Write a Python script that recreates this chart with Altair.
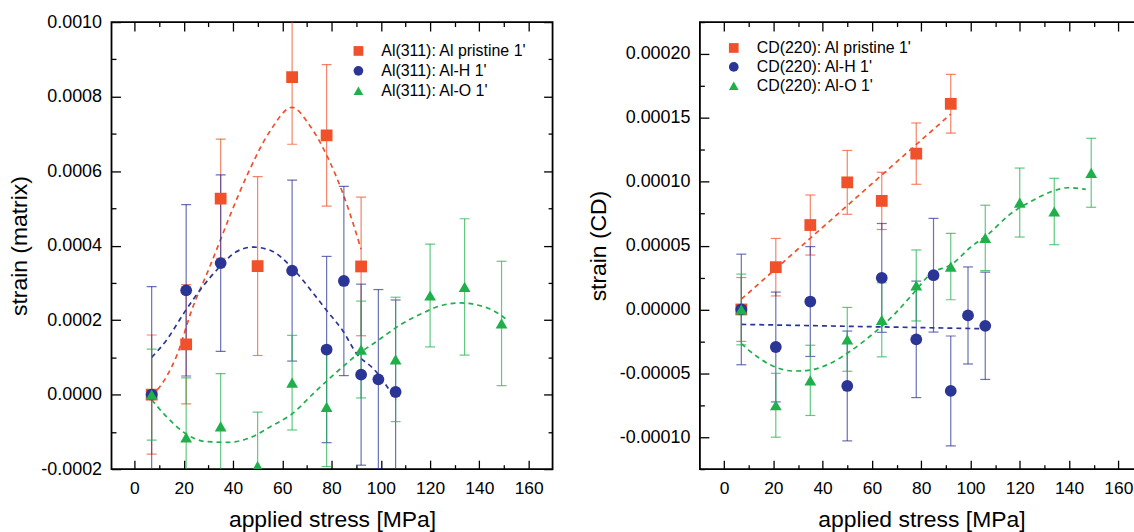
import altair as alt
import pandas as pd

# ---------------- Left panel: Al(311) matrix strain ----------------
L_NAMES = ["Al(311): Al pristine 1'", "Al(311): Al-H 1'", "Al(311): Al-O 1'"]

L_PRI_X = [7, 21, 35, 50, 64, 78, 92]
L_PRI_Y = [0.0, 0.000135, 0.000526, 0.000345, 0.000852, 0.000696, 0.000344]
L_PRI_E = [0.00016, 0.00016, 0.00016, 0.00024, 0.00018, 0.00019, 0.000186]

L_H_X = [7, 21, 35, 64, 78, 85, 92, 99, 106]
L_H_Y = [0.0, 0.00028, 0.000353, 0.000333, 0.000121, 0.000305, 0.0000535, 0.000041, 0.000007]
L_H_E = [0.00029, 0.00023, 0.000237, 0.000243, 0.00025, 0.000254, 0.000243, 0.000241, 0.000247]

L_O_X = [7, 21, 35, 50, 64, 78, 92, 106, 120, 134, 149]
L_O_Y = [0.0, -0.000115, -0.0000855, -0.000192, 0.000032, -0.000033, 0.000121, 0.0000944, 0.000266, 0.000289, 0.000191]
L_O_E = [0.000122, 0.00016, 0.000142, 0.000145, 0.000127, 0.00016, 0.00013, 0.000167, 0.000138, 0.000183, 0.000167]

# fitted (dashed) curves
L_FIT_PRI_X = [7, 13, 17.5, 23, 30.5, 34, 39, 46.5, 55, 64, 71, 78.5, 85, 92]
L_FIT_PRI_Y = [-0.000005, 0.000048, 0.00011, 0.000222, 0.000342, 0.0004, 0.000484, 0.0006, 0.000707, 0.000771, 0.000724, 0.000636, 0.000533, 0.00039]
L_FIT_H_X = [7, 13, 20.4, 27.6, 34.9, 41, 48, 55.3, 64, 72.7, 78, 84.4, 90.2, 97.5, 106]
L_FIT_H_Y = [0.0001, 0.000146, 0.000222, 0.000289, 0.000345, 0.000382, 0.000396, 0.000387, 0.00034, 0.000271, 0.000226, 0.000173, 0.00011, 0.000066, -0.000014]
L_FIT_O_X = [7, 13, 20.4, 29, 38, 46.5, 55.3, 64, 72.7, 81.5, 90.2, 99, 107.6, 116.4, 125, 132.4, 139.6, 145.5, 150.6]
L_FIT_O_Y = [-0.000014, -0.000059, -0.000103, -0.000126, -0.000128, -0.000117, -0.0000855, -0.0000517, 0.0000036, 0.000057,
             0.000106, 0.000146, 0.000186, 0.000217, 0.00024, 0.000246, 0.00024, 0.000226, 0.000204]

L_Y_MAJOR = [-0.0002, 0.0, 0.0002, 0.0004, 0.0006, 0.0008, 0.0010]
L_Y_MINOR = [-0.0001, 0.0001, 0.0003, 0.0005, 0.0007, 0.0009]

# ---------------- Right panel: CD(220) strain ----------------
R_NAMES = ["CD(220): Al pristine 1'", "CD(220): Al-H 1'", "CD(220): Al-O 1'"]

R_PRI_X = [7, 21, 35, 50, 64, 78, 92]
R_PRI_Y = [0.0, 0.0000331, 0.0000661, 0.0000995, 0.000085, 0.000122, 0.000161]
R_PRI_E = [0.000025, 0.0000225, 0.0000235, 0.000025, 0.0000224, 0.000024, 0.000023]

R_H_X = [7, 21, 35, 50, 64, 78, 85, 92, 99, 106]
R_H_Y = [0.0, -0.0000294, 0.0000062, -0.0000599, 0.0000247, -0.0000234, 0.0000268, -0.0000638, -0.0000047, -0.0000128]
R_H_E = [0.0000433, 0.000043, 0.000043, 0.000043, 0.0000426, 0.0000456, 0.0000445, 0.000043, 0.000038, 0.000042]

R_O_X = [7, 21, 35, 50, 64, 78, 92, 106, 120, 134, 149]
R_O_Y = [0.0, -0.000075, -0.0000555, -0.0000234, -0.0000081, 0.0000188, 0.0000336, 0.000056, 0.0000837, 0.0000767, 0.000107]
R_O_E = [0.0000277, 0.000025, 0.0000275, 0.000025, 0.000029, 0.0000278, 0.000026, 0.0000256, 0.000027, 0.000026, 0.000027]

R_FIT_PRI_X = [7, 92]
R_FIT_PRI_Y = [0.000008, 0.000153]
R_FIT_H_X = [7, 106]
R_FIT_H_Y = [-0.0000117, -0.0000151]
R_FIT_O_X = [7, 13.6, 20, 28.3, 34.1, 42.9, 51.7, 60.5, 69.3, 76.6, 83.9, 92.7, 100, 107.3, 116.1, 124.9, 133.7, 139.5, 146.8]
R_FIT_O_Y = [-0.0000268, -0.0000372, -0.0000445, -0.0000482, -0.0000477, -0.0000424, -0.000032, -0.000019, -0.0000034,
             0.0000122, 0.0000279, 0.0000357, 0.0000487, 0.0000591, 0.0000746, 0.000085, 0.0000928, 0.0000953, 0.000094]

R_Y_MAJOR = [-0.0001, -0.00005, 0.0, 0.00005, 0.0001, 0.00015, 0.0002]
R_Y_MINOR = [-0.000125, -0.000075, -0.000025, 0.000025, 0.000075, 0.000125, 0.000175, 0.000225]

X_MAJOR = [0, 20, 40, 60, 80, 100, 120, 140, 160]
X_MINOR = [10, 30, 50, 70, 90, 110, 130, 150]

COLORS = ["#F0502A", "#2B3595", "#1FB04B"]
SHAPES = ["square", "circle", "triangle-up"]

FONT = "Liberation Sans"
MAJ = 9
MIN = 4.5


def pts_df(name, xs, ys, es):
    return pd.DataFrame({
        "series": name, "x": xs, "y": ys,
        "lo": [y - e for y, e in zip(ys, es)],
        "hi": [y + e for y, e in zip(ys, es)],
    })


def fit_df(name, xs, ys):
    return pd.DataFrame({"series": name, "x": xs, "y": ys})


def tick_axis(orient, values, length):
    return alt.Axis(orient=orient, values=values, offset=-length, tickSize=length,
                    tickWidth=1.3, tickColor="black", labels=False, domain=False,
                    grid=False, title=None)


def panel(names, pts, fits, xdom, ydom, ymaj, ymin, yfmt, ytitle, width, legx, legy, rowpad):
    xs = alt.Scale(domain=xdom, nice=False, zero=False)
    ys = alt.Scale(domain=ydom, nice=False, zero=False)
    col = alt.Scale(domain=names, range=COLORS)
    shp = alt.Scale(domain=names, range=SHAPES)

    layers = []
    for i, (pdf, fdf, c) in enumerate(zip(pts, fits, COLORS)):
        first = i == 0

        def ax(orient, values, length):
            return tick_axis(orient, values, length) if first else None

        rules = alt.Chart(pdf).mark_rule(clip=True, strokeWidth=1.2, opacity=0.7, color=c).encode(
            x=alt.X("x:Q", scale=xs, axis=ax("bottom", X_MAJOR, MAJ)),
            y=alt.Y("lo:Q", scale=ys, axis=ax("left", ymaj, MAJ)),
            y2="hi:Q",
        )
        caps_lo = alt.Chart(pdf).mark_tick(clip=True, orient="horizontal", size=10, thickness=1.2,
                                           opacity=0.7, color=c).encode(
            x=alt.X("x:Q", scale=xs, axis=ax("bottom", X_MINOR, MIN)),
            y=alt.Y("lo:Q", scale=ys, axis=ax("left", ymin, MIN)),
        )
        caps_hi = alt.Chart(pdf).mark_tick(clip=True, orient="horizontal", size=10, thickness=1.2,
                                           opacity=0.7, color=c).encode(
            x=alt.X("x:Q", scale=xs, axis=ax("top", X_MAJOR, MAJ)),
            y=alt.Y("hi:Q", scale=ys, axis=ax("right", ymaj, MAJ)),
        )
        line = alt.Chart(fdf).mark_line(clip=True, strokeDash=[5, 4], strokeWidth=1.7,
                                        interpolate="monotone", color=c).encode(
            x=alt.X("x:Q", scale=xs, axis=ax("top", X_MINOR, MIN)),
            y=alt.Y("y:Q", scale=ys, axis=ax("right", ymin, MIN)),
        )
        layers += [rules, caps_lo, caps_hi, line]

    leg = alt.Legend(orient="none", legendX=legx, legendY=legy, title=None, labelFontSize=16,
                     symbolSize=95, labelOffset=15, rowPadding=rowpad, padding=0, labelColor="black",
                     symbolStrokeWidth=0, labelFont=FONT)
    points = alt.Chart(pd.concat(pts, ignore_index=True)).mark_point(
        filled=True, size=140, opacity=1, clip=True).encode(
        x=alt.X("x:Q", scale=xs, axis=alt.Axis(
            title="applied stress [MPa]", values=X_MAJOR, ticks=False, domain=False, grid=False,
            labelFontSize=17.5, labelPadding=11, titleFontSize=23, titlePadding=11,
            titleFontWeight="normal", labelColor="black", titleColor="black")),
        y=alt.Y("y:Q", scale=ys, axis=alt.Axis(
            title=ytitle, values=ymaj, format=yfmt, ticks=False, domain=False, grid=False,
            labelExpr="replace(datum.label, '\u2212', '-')",
            labelFontSize=18, labelPadding=10, titleFontSize=23, titlePadding=9,
            titleFontWeight="normal", labelColor="black", titleColor="black")),
        color=alt.Color("series:N", scale=col, legend=leg),
        shape=alt.Shape("series:N", scale=shp, legend=leg),
    )
    layers.append(points)
    return alt.layer(*layers).resolve_axis(
        x="independent", y="independent").properties(width=width, height=449)


left = panel(
    L_NAMES,
    [pts_df(L_NAMES[0], L_PRI_X, L_PRI_Y, L_PRI_E),
     pts_df(L_NAMES[1], L_H_X, L_H_Y, L_H_E),
     pts_df(L_NAMES[2], L_O_X, L_O_Y, L_O_E)],
    [fit_df(L_NAMES[0], L_FIT_PRI_X, L_FIT_PRI_Y),
     fit_df(L_NAMES[1], L_FIT_H_X, L_FIT_H_Y),
     fit_df(L_NAMES[2], L_FIT_O_X, L_FIT_O_Y)],
    [-9.3, 169.7], [-0.0002, 0.0010], L_Y_MAJOR, L_Y_MINOR, ".4f", "strain (matrix)", 443, 240, 21, 4)

right = panel(
    R_NAMES,
    [pts_df(R_NAMES[0], R_PRI_X, R_PRI_Y, R_PRI_E),
     pts_df(R_NAMES[1], R_H_X, R_H_Y, R_H_E),
     pts_df(R_NAMES[2], R_O_X, R_O_Y, R_O_E)],
    [fit_df(R_NAMES[0], R_FIT_PRI_X, R_FIT_PRI_Y),
     fit_df(R_NAMES[1], R_FIT_H_X, R_FIT_H_Y),
     fit_df(R_NAMES[2], R_FIT_O_X, R_FIT_O_Y)],
    [-9.8, 170], [-0.000125, 0.000225], R_Y_MAJOR, R_Y_MINOR, ".5f", "strain (CD)", 445, 26, 18, 3)

chart = alt.hconcat(left, right, spacing=32).resolve_scale(
    x="independent", y="independent", color="independent", shape="independent"
).properties(
    padding={"left": 8, "top": 11, "right": -11, "bottom": 0}
).configure(font=FONT).configure_view(stroke="black", strokeWidth=1.8)

chart.save("out.html", embed_options={"renderer": "svg", "actions": False})
